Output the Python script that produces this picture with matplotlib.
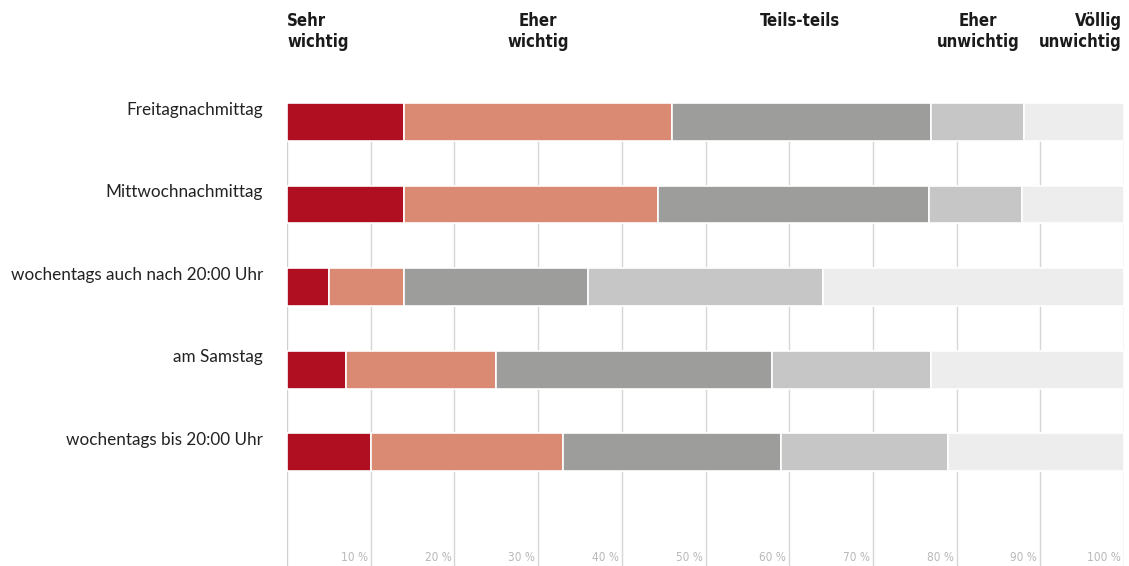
import numpy as np
import matplotlib.pyplot as plt
import matplotlib.transforms as mtransforms

# ── Data ──────────────────────────────────────────────────────────────────────
categories = ["Freitagnachmittag", "Mittwochnachmittag",
              "wochentags auch nach 20:00 Uhr", "am Samstag",
              "wochentags bis 20:00 Uhr"]
sehr_wichtig   = [14, 14, 5, 7, 10]
eher_wichtig   = [32, 30.3, 9, 18, 23]
teils_teils    = [31, 32.4, 22, 33, 26]
eher_unwichtig = [11, 11.1, 28, 19, 20]
voellig_unw    = [12, 12.2, 36, 23, 21]
tick_values = [10, 20, 30, 40, 50, 60, 70, 80, 90, 100]

series = [sehr_wichtig, eher_wichtig, teils_teils, eher_unwichtig, voellig_unw]
colors = ['#b00f21', '#da8a72', '#9d9d9c', '#c6c6c6', '#ededed']

NARROW = ['DejaVu Sans']
LABEL = ['Lato', 'DejaVu Sans']

fig = plt.figure(figsize=(11.29, 5.66), dpi=100)
ax = fig.add_axes([287 / 1129, 0, 837 / 1129, 463 / 566])

# ── Stacked bars ──────────────────────────────────────────────────────────────
y = np.arange(len(categories))
left = np.zeros(len(categories))
for vals, c in zip(series, colors):
    ax.barh(y, vals, left=left, height=0.46, color=c,
            edgecolor='white', linewidth=1.2, zorder=3)
    left += np.array(vals)

ax.set_xlim(0, 100)
ax.set_ylim(5.38, -0.23)

# vertical gridlines (hidden behind the bars)
ax.axvline(0, color='#cfcfcf', linewidth=1, zorder=1)
for t in tick_values:
    ax.axvline(t, color='#d6d6d6', linewidth=1, zorder=1)

# tick labels sit just left of each gridline, at the bottom
off = mtransforms.offset_copy(ax.get_xaxis_transform(), fig=fig, x=-3, y=0, units='dots')
for t in tick_values:
    ax.text(t, 0.018, f"{t} %", transform=off, ha='right', va='center',
            fontsize=8.5, color='#b8b8b8', family=NARROW, fontstretch='condensed')

# category labels
lab = mtransforms.offset_copy(ax.transData, fig=fig, x=-24, y=0, units='dots')
for i, name in enumerate(categories):
    ax.text(0, i - 0.15, name, transform=lab, ha='right', va='center',
            fontsize=12.3, color='#222222', family=LABEL)

ax.set_xticks([])
ax.set_yticks([])
for s in ax.spines.values():
    s.set_visible(False)

# ── Column headers ────────────────────────────────────────────────────────────
hdr = dict(fontsize=12, fontweight='bold', color='#1a1a1a', family=NARROW,
           fontstretch='condensed', va='top', linespacing=1.2)
fig.text(287 / 1129, 1 - 12 / 566, "Sehr\nwichtig", ha='left', **hdr)
fig.text(538 / 1129, 1 - 12 / 566, "Eher\nwichtig", ha='center', **hdr)
fig.text(800 / 1129, 1 - 12 / 566, "Teils-teils", ha='center', **hdr)
fig.text(978 / 1129, 1 - 12 / 566, "Eher\nunwichtig", ha='center', **hdr)
fig.text(1122 / 1129, 1 - 12 / 566, "Völlig\nunwichtig", ha='right', **hdr)

fig.savefig("out.png", dpi=100, facecolor='white')
